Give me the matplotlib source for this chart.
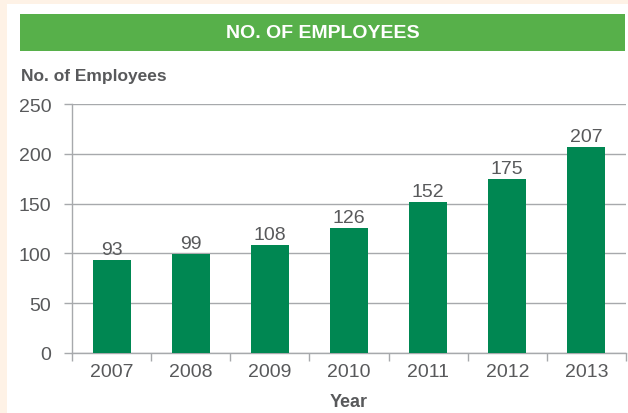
import matplotlib
matplotlib.use("Agg")
import matplotlib.pyplot as plt
from matplotlib.patches import Rectangle

years = ["2007", "2008", "2009", "2010", "2011", "2012", "2013"]
employees = [93, 99, 108, 126, 152, 175, 207]
y_ticks = [0, 50, 100, 150, 200, 250]

plt.rcParams['font.family'] = ['Liberation Sans', 'DejaVu Sans']

W, H = 628, 414
GREY_TEXT = '#58595B'
GREY_LINE = '#A7A9AC'
fig = plt.figure(figsize=(W / 100, H / 100), dpi=100)
fig.patch.set_facecolor('#FEF2E6')

# white page panel
fig.patches.append(Rectangle((7 / W, 0), 1 - 7 / W, 1 - 5 / H, transform=fig.transFigure,
                             facecolor='white', edgecolor='none', zorder=-2))
# green title banner
fig.patches.append(Rectangle((20 / W, 1 - 52 / H), 605 / W, 37 / H, transform=fig.transFigure,
                             facecolor='#57B04A', edgecolor='none', zorder=-1))
fig.text(323 / W, 1 - 34 / H, "NO. OF EMPLOYEES", color='white', fontsize=14,
         fontweight='bold', ha='center', va='center')
fig.text(21 / W, 1 - 76 / H, "No. of Employees", color=GREY_TEXT, fontsize=12.5,
         fontweight='bold', ha='left', va='center')

ax = fig.add_axes([72 / W, 1 - 354 / H, 554 / W, 249 / H])
ax.set_zorder(2)
ax.set_facecolor('none')
x = range(len(years))
ax.bar(x, employees, width=0.48, color='#008752', zorder=3)
for xi, v in zip(x, employees):
    ax.text(xi, v + 2, str(v), ha='center', va='bottom', fontsize=14, color=GREY_TEXT)

ax.set_xlim(-0.5, len(years) - 0.5)
ax.set_ylim(0, 250)
ax.set_yticks(y_ticks)
ax.set_yticklabels([str(t) for t in y_ticks], fontsize=14, color=GREY_TEXT)
ax.set_xticks(x)
ax.set_xticklabels(years, fontsize=14, color=GREY_TEXT)
ax.tick_params(axis='x', length=0, pad=7.5)
ax.set_xticks([i + 0.5 for i in range(-1, len(years))], minor=True)
ax.tick_params(axis='x', which='minor', length=6, color=GREY_LINE, width=1)
ax.tick_params(axis='y', length=6, color=GREY_LINE, width=1, pad=9)
ax.grid(axis='y', color=GREY_LINE, linewidth=1, zorder=0)
for s in ['top', 'right']:
    ax.spines[s].set_visible(False)
for s in ['left', 'bottom']:
    ax.spines[s].set_color(GREY_LINE)
    ax.spines[s].set_linewidth(1)
ax.set_xlabel("Year", fontsize=13, fontweight='bold', color=GREY_TEXT, labelpad=9)

fig.savefig("out.png", dpi=100, facecolor=fig.get_facecolor())
